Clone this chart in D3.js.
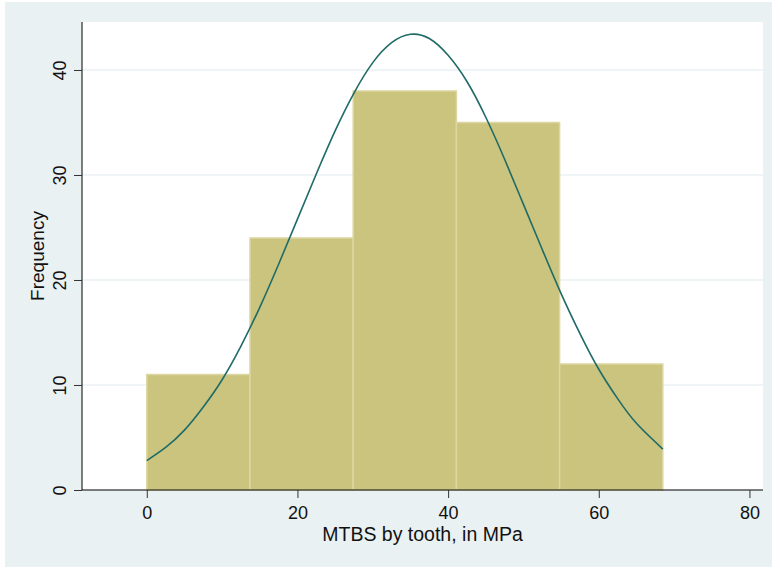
<!DOCTYPE html>
<html lang="en">
<head>
    <meta charset="UTF-8">
    <title>MTBS histogram</title>
    <style>
        *{ box-sizing: border-box; }
        body{ margin: 0; background: #fff; }
        #main{ width: 772px; height: 567px; }
        text{ font-family: "Liberation Sans", Arial, Helvetica, sans-serif; fill: #111; }
    </style>
</head>
<body>
<div id="main"></div>
<script src="https://d3js.org/d3.v7.min.js"></script>
<script>
    /* bin edges and frequencies */
    const binEdges = [0, 13.7, 27.4, 41.1, 54.8, 68.5]
    const frequencies = [11, 24, 38, 35, 12]

    /* overlaid normal curve */
    const curveX = [0, 2.5, 5, 7.5, 10, 12.5, 15, 17.5, 20, 22.5, 25, 27.5, 30, 32.5, 35,
        37.5, 40, 42.5, 45, 47.5, 50, 52.5, 55, 57.5, 60, 62.5, 65, 68.5]
    const curveY = [2.8, 4.05, 5.7, 7.9, 10.5, 13.7, 17.4, 21.5, 25.8, 30.1, 34.2, 37.8, 40.7, 42.6, 43.4,
        43.0, 41.4, 38.9, 35.5, 31.5, 27.2, 22.9, 18.7, 14.9, 11.5, 8.7, 6.35, 3.9]

    const xTicks = [0, 20, 40, 60, 80]
    const yTicks = [0, 10, 20, 30, 40]

    const width = 772
    const height = 567

    const svg = d3.select('#main').append('svg')
        .attr('width', width)
        .attr('height', height)
        .attr('viewBox', `0 0 ${width} ${height}`)

    /* outer graph region */
    svg.append('rect')
        .attr('x', 5).attr('y', 2)
        .attr('width', width - 5).attr('height', height - 2)
        .attr('fill', '#EAF1F3')

    const plot = {left: 82, right: 763, top: 22, bottom: 490}

    svg.append('rect')
        .attr('x', plot.left).attr('y', plot.top)
        .attr('width', plot.right - plot.left).attr('height', plot.bottom - plot.top)
        .attr('fill', '#fff')

    const xScale = d3.scaleLinear().domain([-8.6, 81.8]).range([plot.left, plot.right])
    const yScale = d3.scaleLinear().domain([0, 44.57]).range([plot.bottom, plot.top])

    /* grid lines */
    svg.append('g')
        .selectAll('line')
        .data(yTicks.filter(d => d > 0))
        .join('line')
        .attr('x1', plot.left).attr('x2', plot.right)
        .attr('y1', d => yScale(d)).attr('y2', d => yScale(d))
        .attr('stroke', '#EAF1F3')
        .attr('stroke-width', 1.5)

    /* bars */
    const bins = frequencies.map((f, i) => ({x0: binEdges[i], x1: binEdges[i + 1], n: f}))
    svg.append('g')
        .selectAll('rect')
        .data(bins)
        .join('rect')
        .attr('x', d => xScale(d.x0))
        .attr('y', d => yScale(d.n))
        .attr('width', d => xScale(d.x1) - xScale(d.x0))
        .attr('height', d => yScale(0) - yScale(d.n))
        .attr('fill', '#CBC47F')
        .attr('stroke', '#DCD6A2')
        .attr('stroke-width', 1.5)

    /* normal curve */
    const line = d3.line()
        .x((d, i) => xScale(curveX[i]))
        .y(d => yScale(d))
        .curve(d3.curveNatural)
    svg.append('path')
        .datum(curveY)
        .attr('d', line)
        .attr('fill', 'none')
        .attr('stroke', '#1F6B66')
        .attr('stroke-width', 1.6)

    /* axes */
    const xAxis = svg.append('g')
        .attr('transform', `translate(0,${plot.bottom})`)
        .call(d3.axisBottom(xScale).tickValues(xTicks).tickSize(8).tickPadding(8).tickSizeOuter(0))
    xAxis.select('.domain').attr('stroke', '#000').attr('d', `M${plot.left},0H${plot.right}`)
    xAxis.selectAll('.tick line').attr('stroke', '#333')
    xAxis.selectAll('text').style('font-size', '18px').attr('fill', '#111')

    const yAxis = svg.append('g')
        .attr('transform', `translate(${plot.left},0)`)
        .call(d3.axisLeft(yScale).tickValues(yTicks).tickSize(8).tickSizeOuter(0))
    yAxis.select('.domain').attr('stroke', '#000').attr('d', `M0,${plot.top}V${plot.bottom}`)
    yAxis.selectAll('.tick line').attr('stroke', '#333')
    yAxis.selectAll('text')
        .attr('x', null).attr('dy', null)
        .attr('text-anchor', 'middle')
        .attr('transform', 'translate(-16,0) rotate(-90)')
        .style('font-size', '18px')
        .attr('fill', '#111')

    /* titles */
    svg.append('text')
        .attr('x', (plot.left + plot.right) / 2)
        .attr('y', 541)
        .attr('text-anchor', 'middle')
        .style('font-size', '19.5px')
        .text('MTBS by tooth, in MPa')

    svg.append('text')
        .attr('transform', `translate(44,${(plot.top + plot.bottom) / 2}) rotate(-90)`)
        .attr('text-anchor', 'middle')
        .style('font-size', '19px')
        .text('Frequency')
</script>
</body>
</html>
